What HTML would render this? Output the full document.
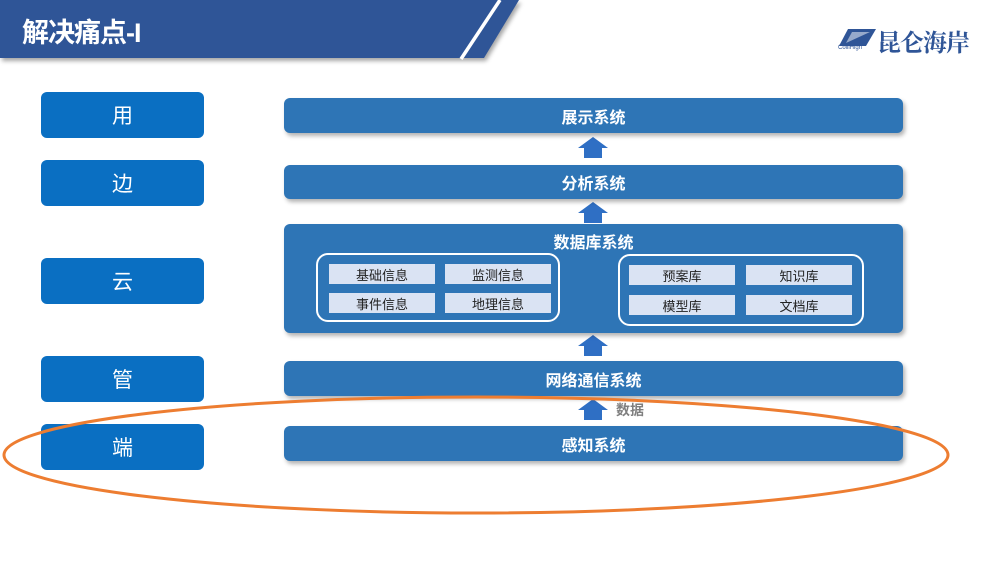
<!DOCTYPE html>
<html><head><meta charset="utf-8"><style>
body{margin:0;width:1000px;height:562px;background:#fff;position:relative;overflow:hidden;font-family:"Liberation Sans","Noto Sans CJK SC",sans-serif}
.a{position:absolute;display:flex;align-items:center;justify-content:center;box-sizing:border-box}
.l{left:41px;width:163px;height:46px;background:#0a6fc2;border-radius:6px;color:#fff;font-size:21px}
.r{left:284px;width:619px;background:#2e75b6;border-radius:6px;color:#fff;font-size:16px;font-weight:bold;box-shadow:2px 3px 4px rgba(0,0,0,.3)}
.g{border:2px solid #fff;border-radius:12px;background:#2e75b6}
.i{background:#dae3f3;color:#222;font-size:13px;width:106px;height:20px}
</style></head><body>
<svg width="1000" height="562" style="position:absolute;left:0;top:0">
<polygon points="0,0 519,0 484,58 0,58" fill="#2f5597" style="filter:drop-shadow(2px 3px 2px rgba(0,0,0,.35))"/>
<line x1="500" y1="0" x2="461" y2="59" stroke="#fff" stroke-width="3.5"/>
<g fill="#2f6fc4">
<polygon points="584,148 584,158 602,158 602,148 608,148 593,137 578,148"/>
<polygon points="584,213 584,223 602,223 602,213 608,213 593,202 578,213"/>
<polygon points="584,346 584,356 602,356 602,346 608,346 593,335 578,346"/>
<polygon points="584,410 584,420 602,420 602,410 608,410 593,399 578,410"/>
</g>
<polygon points="839,46 848,29 876,29 866,46" fill="#2f5597"/>
<polygon points="846,43 852,32 870,32" fill="#fff" opacity=".5"/>
</svg>
<div class="a" style="left:22px;top:10px;height:40px;color:#fff;font-size:27px;font-weight:bold;letter-spacing:-1px">解决痛点-I</div>
<div class="a" style="left:877px;top:26px;height:28px;color:#2f5597;font-size:24px;font-weight:bold;font-family:'Noto Serif CJK SC',serif;letter-spacing:-1px">昆仑海岸</div>
<div class="a" style="left:838px;top:45px;font-size:6px;color:#2f5597">ColliHigh</div>
<div class="a l" style="top:92px">用</div>
<div class="a l" style="top:160px">边</div>
<div class="a l" style="top:258px">云</div>
<div class="a l" style="top:356px">管</div>
<div class="a l" style="top:424px">端</div>
<div class="a r" style="top:98px;height:35px">展示系统</div>
<div class="a r" style="top:165px;height:34px">分析系统</div>
<div class="a r" style="top:224px;height:109px;align-items:flex-start;padding-top:5px">数据库系统</div>
<div class="a g" style="left:316px;top:253px;width:244px;height:69px"></div>
<div class="a g" style="left:618px;top:254px;width:246px;height:72px"></div>
<div class="a i" style="left:329px;top:264px">基础信息</div>
<div class="a i" style="left:445px;top:264px">监测信息</div>
<div class="a i" style="left:329px;top:293px">事件信息</div>
<div class="a i" style="left:445px;top:293px">地理信息</div>
<div class="a i" style="left:629px;top:265px">预案库</div>
<div class="a i" style="left:746px;top:265px">知识库</div>
<div class="a i" style="left:629px;top:295px">模型库</div>
<div class="a i" style="left:746px;top:295px">文档库</div>
<div class="a r" style="top:361px;height:35px">网络通信系统</div>
<div class="a r" style="top:426px;height:35px">感知系统</div>
<div class="a" style="left:616px;top:400px;height:20px;font-size:14px;color:#7f7f7f;font-weight:bold">数据</div>
<svg width="1000" height="562" style="position:absolute;left:0;top:0;pointer-events:none">
<ellipse cx="476" cy="455" rx="472" ry="58" fill="none" stroke="#ed7d31" stroke-width="3"/>
</svg>
</body></html>
